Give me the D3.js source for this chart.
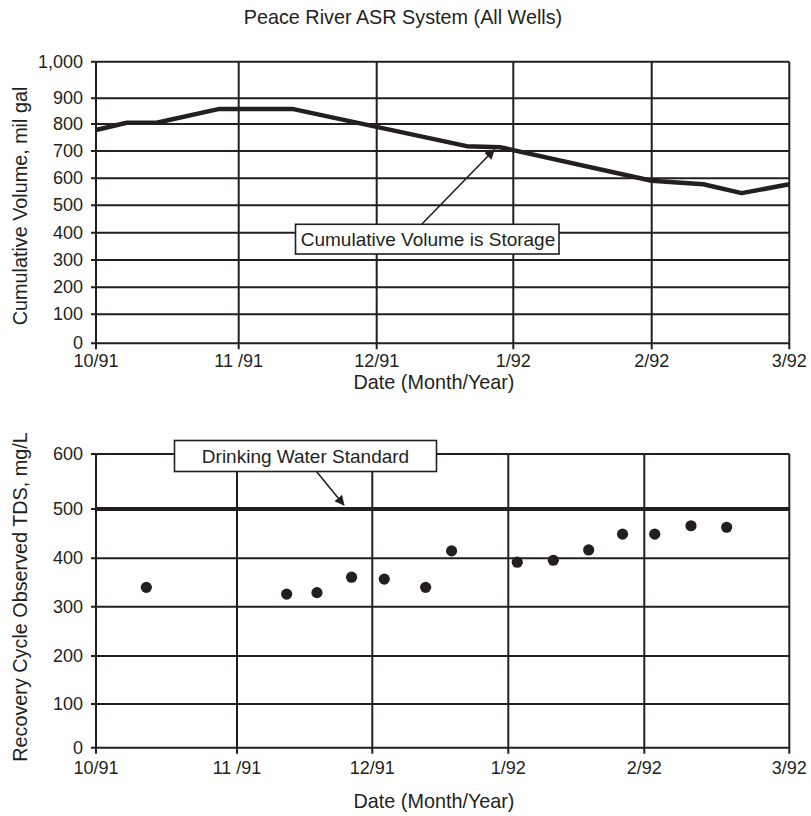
<!DOCTYPE html>
<html><head><meta charset="utf-8">
<script src="https://cdn.jsdelivr.net/npm/d3@7"></script>
<style>
body{margin:0;background:#fff}
text{font-family:"Liberation Sans",Arial,Helvetica,sans-serif;fill:#231f20}
</style>
</head><body>
<svg id="c" width="811" height="816"></svg>
<script>
// ---------- data ----------
const monthLabels = ["10/91", "11 /91", "12/91", "1/92", "2/92", "3/92"];
const monthIndex = [0, 1, 2, 3, 4, 5];

const volTicks = [0, 100, 200, 300, 400, 500, 600, 700, 800, 900, 1000];
const volTickLabels = ["0", "100", "200", "300", "400", "500", "600", "700", "800", "900", "1,000"];
// cumulative volume (mil gal) vs time in months since 10/91
const volMonth = [0, 0.215, 0.425, 0.857, 1.396, 2.659, 2.903, 4.0, 4.375, 4.654, 5.0];
const volValue = [778, 805, 805, 858, 858, 718, 714, 591, 578, 545, 578];

const tdsTicks = [0, 100, 200, 300, 400, 500, 600];
const tdsTickLabels = ["0", "100", "200", "300", "400", "500", "600"];
// observed TDS (mg/L) vs time in months since 10/91
const tdsMonth = [0.357, 1.367, 1.591, 1.847, 2.088, 2.392, 2.583, 3.066, 3.331, 3.591, 3.840, 4.072, 4.322, 4.568];
const tdsValue = [340, 326, 329, 361, 357, 340, 415, 392, 396, 417, 449, 449, 466, 463];
const drinkingStandard = 500;

const title = "Peace River ASR System (All Wells)";
const xTitle = "Date (Month/Year)";
const yTitleTop = "Cumulative  Volume, mil gal";
const yTitleBottom = "Recovery Cycle Observed TDS, mg/L";
const noteTop = "Cumulative Volume is Storage";
const noteBottom = "Drinking Water Standard";

// ---------- layout ----------
const ink = "#231f20";
const svg = d3.select("#c");
const FS = 18;      // tick labels
const FT = 19.8;    // titles
const FN = 19;      // notes

const xTop = d3.scaleLinear().domain(monthIndex).range([96, 238.7, 376.7, 513.3, 651.7, 789.3]);
const yTop = d3.scaleLinear().domain(volTicks)
  .range([343.3, 314.3, 287.3, 260, 232.7, 205.3, 178.3, 151, 124, 98.3, 61.7]);
const xBot = d3.scaleLinear().domain(monthIndex).range([96, 237, 372.3, 508.3, 644.3, 789.3]);
const yBot = d3.scaleLinear().domain(tdsTicks).range([747.7, 704, 656, 606.7, 558.3, 509, 454]);

svg.append("text").attr("x", 403).attr("y", 24).attr("text-anchor", "middle")
  .attr("font-size", FT).text(title);

function panel(x, y, yTicks, yLabels, yTitle, yTitleY, xTickDy, xTitleY) {
  const g = svg.append("g");
  const [x0, x1] = [x.range()[0], x.range()[x.range().length - 1]];
  const [y0, y1] = [y.range()[0], y.range()[y.range().length - 1]];
  // horizontal grid
  g.selectAll(".hg").data(yTicks).join("line")
    .attr("x1", x0 - 5).attr("x2", x1).attr("y1", d => y(d)).attr("y2", d => y(d))
    .attr("stroke", ink).attr("stroke-width", 2);
  // vertical grid
  g.selectAll(".vg").data(monthIndex).join("line")
    .attr("x1", d => x(d)).attr("x2", d => x(d)).attr("y1", y1).attr("y2", y0 + 6)
    .attr("stroke", ink).attr("stroke-width", 2);
  // y tick labels
  g.selectAll(".yl").data(yTicks).join("text")
    .attr("x", x0 - 13).attr("y", d => y(d)).attr("dy", "0.33em")
    .attr("text-anchor", "end").attr("font-size", FS).text((d, i) => yLabels[i]);
  // x tick labels
  g.selectAll(".xl").data(monthIndex).join("text")
    .attr("x", d => x(d)).attr("y", y0 + xTickDy)
    .attr("text-anchor", "middle").attr("font-size", FS).text((d, i) => monthLabels[i]);
  // axis titles
  g.append("text").attr("transform", `translate(27,${yTitleY}) rotate(-90)`)
    .attr("text-anchor", "middle").attr("font-size", FT).text(yTitle);
  g.append("text").attr("x", 434).attr("y", xTitleY)
    .attr("text-anchor", "middle").attr("font-size", FT).text(xTitle);
  return g;
}

panel(xTop, yTop, volTicks, volTickLabels, yTitleTop, 206, 24, 389);
panel(xBot, yBot, tdsTicks, tdsTickLabels, yTitleBottom, 597, 26, 808);

// arrow marker
svg.append("defs").append("marker").attr("id", "ah")
  .attr("viewBox", "0 0 10 10").attr("refX", 9).attr("refY", 5)
  .attr("markerWidth", 10).attr("markerHeight", 10).attr("markerUnits", "userSpaceOnUse")
  .attr("orient", "auto")
  .append("path").attr("d", "M0,0L10,5L0,10Z").attr("fill", ink);

// top: cumulative volume line
const volData = volMonth.map((m, i) => [m, volValue[i]]);
svg.append("path").datum(volData)
  .attr("d", d3.line().x(d => xTop(d[0])).y(d => yTop(d[1])))
  .attr("fill", "none").attr("stroke", ink).attr("stroke-width", 4.5)
  .attr("stroke-linejoin", "round");

// top annotation
svg.append("line").attr("x1", 421.7).attr("y1", 224.3)
  .attr("x2", xTop(2.86)).attr("y2", yTop(712) + 2)
  .attr("stroke", ink).attr("stroke-width", 1.6).attr("marker-end", "url(#ah)");
svg.append("rect").attr("x", 295.5).attr("y", 224.3).attr("width", 263.5).attr("height", 29.7)
  .attr("fill", "#fff").attr("stroke", ink).attr("stroke-width", 1.6);
svg.append("text").attr("x", 428).attr("y", 246).attr("text-anchor", "middle")
  .attr("font-size", FN).text(noteTop);

// bottom: drinking water standard line
svg.append("line").attr("x1", xBot(0)).attr("x2", xBot(5))
  .attr("y1", yBot(drinkingStandard)).attr("y2", yBot(drinkingStandard))
  .attr("stroke", ink).attr("stroke-width", 4);

// bottom dots
const tdsData = tdsMonth.map((m, i) => [m, tdsValue[i]]);
svg.selectAll(".dot").data(tdsData).join("circle")
  .attr("cx", d => xBot(d[0])).attr("cy", d => yBot(d[1])).attr("r", 5.6).attr("fill", ink);

// bottom annotation
svg.append("line").attr("x1", 316.7).attr("y1", 471.7)
  .attr("x2", xBot(1.79)).attr("y2", yBot(drinkingStandard) - 4)
  .attr("stroke", ink).attr("stroke-width", 1.6).attr("marker-end", "url(#ah)");
svg.append("rect").attr("x", 174.5).attr("y", 440.5).attr("width", 262).attr("height", 31)
  .attr("fill", "#fff").attr("stroke", ink).attr("stroke-width", 1.6);
svg.append("text").attr("x", 305.5).attr("y", 463).attr("text-anchor", "middle")
  .attr("font-size", FN).text(noteBottom);
</script>
</body></html>
